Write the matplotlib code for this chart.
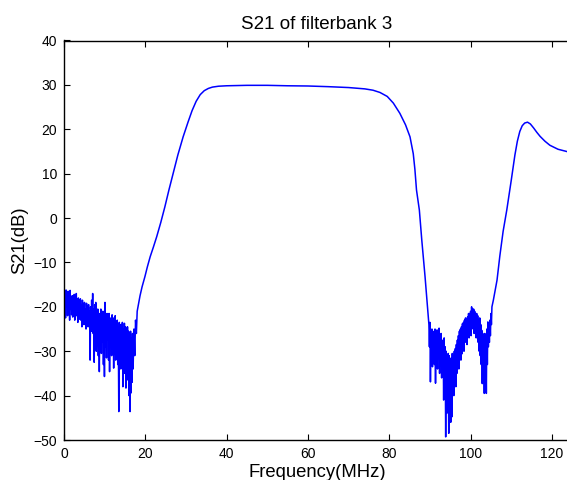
import numpy as np
import matplotlib
matplotlib.use("Agg")
import matplotlib.pyplot as plt

plt.rcParams['font.family'] = ['Liberation Sans', 'DejaVu Sans']

# ---- data ----
# noisy low-frequency stop band, 0 .. 17 MHz (evenly sampled)
low_noise_start, low_noise_end = 0.0, 17.0
low_noise_db = [
    -18, -21.5, -17, -22.5, -16.2, -20, -17.5, -22,
    -16.5, -21, -18, -23, -16.3, -20.5, -17.8, -21.8,
    -17.5, -22.3, -18.5, -20.8, -17.2, -23, -18.8, -21.5,
    -17, -22, -19, -23.5, -18, -21, -19.5, -22.8,
    -18.2, -23, -19.5, -24.5, -18.5, -22, -20, -24,
    -19, -23.8, -20.5, -25, -19.2, -22.5, -20.8, -24.5,
    -19.5, -24, -21, -32, -20, -25.5, -18.5, -23.5,
    -17, -26, -20.5, -32.5, -19.5, -27, -19, -30,
    -21, -28.5, -20.5, -31, -22, -34.6, -21.5, -29,
    -20.5, -30.5, -22.5, -28, -21, -33, -22.8, -35.7,
    -19, -29, -22, -31.5, -21.5, -27.5, -23, -32,
    -21.5, -34.6, -22.5, -29, -23, -31, -21.8, -30,
    -22.5, -33.8, -23, -30.5, -22, -32, -24, -29.5,
    -23, -33, -24.5, -43.6, -23.5, -31, -24, -34,
    -24, -32.5, -23.5, -38, -25, -33, -23.7, -35,
    -24.5, -38.3, -25, -34, -24.5, -36.5, -25.5, -40,
    -26, -43.6, -25.5, -39.4, -27, -37, -26, -34,
]

# smooth rising edge, pass band and falling edge
mid_freq = [17.2, 17.4, 17.6, 17.8, 18.0, 18.3, 18.7, 19.2, 19.9, 20.5, 21.2,
            22.0, 22.8, 23.8, 24.8, 25.8, 26.9, 28.0, 29.3, 30.5, 31.5, 32.5,
            33.5, 34.5, 35.5, 36.5, 38.0, 40.0, 45.0, 50.0, 55.0, 60.0, 65.0,
            70.0, 74.0, 76.0, 77.7, 79.5, 81.0, 82.6, 84.0, 85.1, 85.9, 86.3,
            86.7, 87.4, 88.0, 88.8, 89.6]
mid_db = [-25, -31, -23, -26, -21, -19.5, -17.5, -15.5, -13.2, -11, -8.7,
          -6.5, -4.2, -1, 2.5, 6.3, 10.3, 14.2, 18.3, 21.6, 24.2, 26.3,
          27.8, 28.7, 29.2, 29.5, 29.7, 29.8, 29.9, 29.9, 29.8, 29.75, 29.6,
          29.4, 29.1, 28.8, 28.3, 27.4, 25.9, 23.6, 21.0, 18.3, 14.5, 11.0,
          6.3, 1.8, -5.0, -13.2, -22.2]

# noisy notch region, 89.75 .. 105.25 MHz (evenly sampled)
notch_start, notch_end = 89.75, 105.25
notch_db = [
    -24, -29, -23.5, -36.9, -26, -31, -25, -33.5,
    -25.5, -30.5, -26, -33, -25, -37.2, -26.5, -31,
    -25.2, -34, -26.5, -31.5, -24.8, -35, -27, -33,
    -26, -36, -27.5, -34, -28, -41, -27, -38,
    -29, -49.3, -30, -44, -31, -40, -30.5, -48.5,
    -31, -42, -32, -46, -31.5, -44.8, -30.5, -38,
    -31, -40, -30, -36.5, -29.4, -38, -28.5, -35,
    -27.5, -33, -26.5, -34, -25.5, -31.5, -25, -32,
    -24.5, -30.6, -23.8, -29, -23.5, -30, -23, -28,
    -22.5, -27.5, -23, -28.5, -22.3, -26.8, -21.5, -27,
    -21.5, -25.5, -21, -26.5, -20, -24.5, -20.5, -25,
    -20.5, -26, -21, -24.5, -21.5, -27, -21.5, -26,
    -22, -28, -23, -30, -22.5, -31, -24, -33,
    -25.3, -37.3, -26, -35, -27.5, -39.5, -26, -36,
    -27, -39.5, -25, -33, -23.4, -29, -24, -28,
    -23, -26.5, -21.5, -24, -20,
]

# upper rise and resonance peak
high_freq = [105.6, 106.5, 107.2, 108.0, 108.9, 110.0, 110.9, 111.5, 112.1,
             112.7, 113.3, 114.0, 114.7, 115.5, 116.3, 117.1, 118.3, 119.5,
             121.5, 123.6, 124.5]
high_db = [-18.5, -14, -8.5, -3, 1.8, 8.5, 14.2, 17.3, 19.5,
           20.8, 21.4, 21.6, 21.2, 20.3, 19.3, 18.4, 17.3, 16.4,
           15.5, 15.0, 14.8]

title = "S21 of filterbank 3"
xlabel = "Frequency(MHz)"
ylabel = "S21(dB)"
xticks = [0, 20, 40, 60, 80, 100, 120]
yticks = [-50, -40, -30, -20, -10, 0, 10, 20, 30, 40]

# ---- assemble the trace ----
low_f = np.linspace(low_noise_start, low_noise_end, len(low_noise_db))
notch_f = np.linspace(notch_start, notch_end, len(notch_db))
freq = np.concatenate([low_f, mid_freq, notch_f, high_freq])
s21 = np.concatenate([low_noise_db, mid_db, notch_db, high_db])

fig = plt.figure(figsize=(5.67, 4.80), dpi=100)
ax = fig.add_axes([64 / 567, 40 / 480, (570.2 - 64) / 567, (440 - 40.5) / 480])
ax.plot(freq, s21, color='#0000FF', lw=1.1)

ax.set_xlim(0, 124.5)
ax.set_ylim(-50, 40)
ax.set_xticks(xticks)
ax.set_yticks(yticks)
ax.tick_params(direction='in', length=4, width=0.8, labelsize=10,
               top=True, right=False, pad=5, colors='black')
for s in ['left', 'bottom', 'top']:
    ax.spines[s].set_linewidth(1.0)
ax.spines['right'].set_visible(False)

ax.set_title(title, fontsize=13.5, pad=8)
ax.set_xlabel(xlabel, fontsize=13.3, labelpad=2)
ax.set_ylabel(ylabel, fontsize=13.3, labelpad=4)

fig.savefig("out.png", dpi=100)
